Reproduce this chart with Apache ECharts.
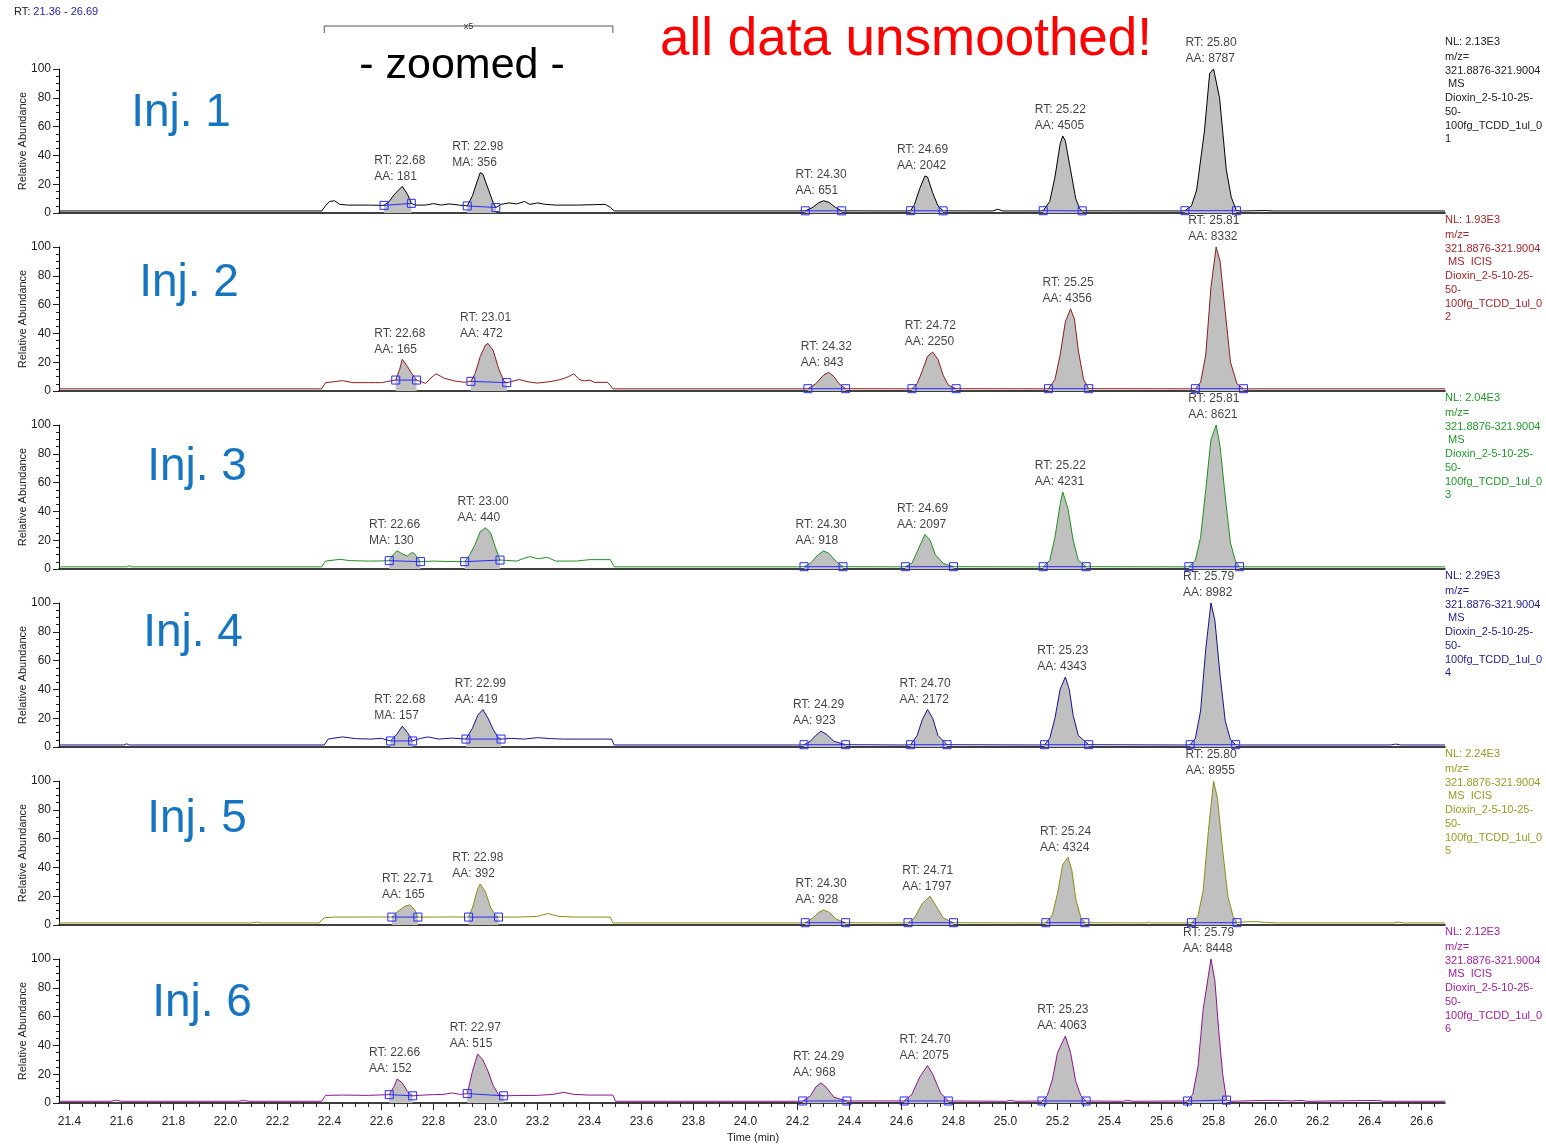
<!DOCTYPE html>
<html>
<head>
<meta charset="utf-8">
<script src="https://cdn.jsdelivr.net/npm/echarts@6/dist/echarts.min.js"></script>
<style>
html, body { margin: 0; padding: 0; background: #ffffff; }
#chart { width: 1546px; height: 1145px; }
</style>
</head>
<body>
<div id="chart"></div>
<script>
// Retention-time window shown on every trace (minutes)
const timeRange = [21.36, 26.69];
// Segment of the run displayed at x5 magnification
const zoomedRange = [22.38, 23.49];
// Labelled ticks on the shared time axis
const xTickLabels = [21.4, 21.6, 21.8, 22.0, 22.2, 22.4, 22.6, 22.8, 23.0, 23.2, 23.4, 23.6, 23.8,
  24.0, 24.2, 24.4, 24.6, 24.8, 25.0, 25.2, 25.4, 25.6, 25.8, 26.0, 26.2, 26.4, 26.6];

const injNames = ['Inj. 1', 'Inj. 2', 'Inj. 3', 'Inj. 4', 'Inj. 5', 'Inj. 6'];
const nlValues = ['2.13E3', '1.93E3', '2.04E3', '2.29E3', '2.24E3', '2.12E3'];
const scanModes = [' MS', ' MS  ICIS', ' MS', ' MS', ' MS  ICIS', ' MS  ICIS'];
const traceColors = ['#000000', '#8c1c1c', '#1f8f1f', '#14148c', '#8c8c14', '#8c148c'];
const infoColors = ['#222222', '#a3262a', '#22962b', '#1c1c8c', '#9a9a28', '#a021a0'];

// Chromatogram traces: [time (min), relative abundance (%)]
const inj1Trace = [[21.36,1.4],[22.37,1.4],[22.385,5],[22.40,8],[22.42,8.5],[22.44,6],[22.47,5.5],[22.55,5.5],
  [22.61,5.3],[22.63,8],[22.65,13],[22.68,18.5],[22.70,13],[22.715,6.7],[22.73,5.5],[22.77,5.5],[22.80,6.5],
  [22.83,5.5],[22.86,6.3],[22.90,5.5],[22.93,4.9],[22.95,12],[22.97,23],[22.98,28],[22.99,27],[23.01,17],
  [23.03,7],[23.04,3.8],[23.06,6],[23.09,7],[23.12,6.3],[23.15,8],[23.17,6],[23.20,7],[23.23,6],[23.27,5.5],
  [23.35,5.5],[23.42,5.8],[23.46,6],[23.48,4],[23.495,1.4],[24.20,1.4],[24.23,1.5],[24.26,4],[24.28,7],
  [24.30,8.5],[24.32,7.5],[24.345,4],[24.37,1.5],[24.62,1.4],[24.635,1.6],[24.65,6],[24.67,17],[24.69,25.7],
  [24.70,25],[24.72,14],[24.74,5],[24.76,1.5],[24.95,1.4],[24.97,2.6],[24.99,1.4],[25.13,1.4],[25.145,1.6],
  [25.17,8],[25.19,25],[25.21,48],[25.22,53.5],[25.23,50],[25.25,30],[25.27,10],[25.285,3],[25.295,1.5],
  [25.67,1.4],[25.69,1.6],[25.715,5],[25.735,16],[25.765,57],[25.785,97],[25.80,100],[25.823,80],[25.849,30],
  [25.868,11],[25.888,1.6],[25.91,1.4],[26.00,1.7],[26.03,1.4],[26.69,1.4]];
const inj2Trace = [[21.36,1.5],[22.37,1.5],[22.385,5.8],[22.42,6.5],[22.45,7.2],[22.49,5.8],[22.55,5.8],
  [22.60,5.8],[22.62,6.5],[22.655,7.6],[22.67,15],[22.68,22],[22.70,17],[22.715,12.5],[22.735,7.6],[22.77,5.3],
  [22.79,9],[22.81,12],[22.84,9],[22.88,7],[22.92,6],[22.944,6.7],[22.96,12],[22.98,24],[23.00,32],[23.01,33],
  [23.03,28],[23.05,16],[23.07,7],[23.082,5.8],[23.10,6.5],[23.13,8],[23.16,6.5],[23.20,5.5],[23.25,6.5],
  [23.29,8],[23.32,10],[23.34,12],[23.36,8],[23.38,7],[23.40,7.5],[23.42,6],[23.47,6],[23.48,4],[23.49,1.5],
  [24.22,1.5],[24.24,1.6],[24.27,5],[24.30,11],[24.32,13],[24.34,10],[24.36,5],[24.385,1.6],[24.62,1.5],
  [24.64,1.6],[24.66,5],[24.68,14],[24.70,24],[24.72,27],[24.74,22],[24.76,11],[24.78,4],[24.81,1.6],
  [25.15,1.5],[25.165,1.6],[25.19,8],[25.21,25],[25.23,48],[25.25,57],[25.265,50],[25.28,28],[25.30,8],
  [25.32,1.6],[25.71,1.5],[25.73,1.6],[25.75,6],[25.77,25],[25.79,72],[25.81,100],[25.825,90],[25.845,55],
  [25.865,20],[25.89,5],[25.915,1.6],[25.93,1.5],[26.69,1.5]];
const inj3Trace = [[21.36,1.5],[21.62,1.5],[21.63,2.2],[21.64,1.5],[22.37,1.5],[22.385,5.5],[22.44,6.7],
  [22.48,5.8],[22.55,5.5],[22.60,5.6],[22.63,5.8],[22.645,10],[22.66,12.7],[22.68,10.5],[22.70,9],[22.715,11.3],
  [22.725,11],[22.75,5.1],[22.80,5.5],[22.86,5.2],[22.92,5.1],[22.94,10],[22.96,17],[22.98,26],[23.00,28.7],
  [23.02,25],[23.04,14],[23.056,6.2],[23.08,6],[23.12,5.5],[23.15,7.5],[23.17,8.6],[23.20,7.2],[23.24,8],
  [23.27,5.5],[23.35,5.5],[23.40,6.5],[23.48,6.5],[23.495,1.5],[24.20,1.5],[24.225,1.6],[24.25,4],[24.28,10],
  [24.30,12.5],[24.32,11],[24.35,5],[24.375,1.6],[24.60,1.5],[24.615,1.6],[24.64,4],[24.66,12],[24.69,24],
  [24.71,20],[24.73,10],[24.76,4],[24.80,1.6],[25.13,1.5],[25.145,1.6],[25.17,6],[25.19,22],[25.21,45],
  [25.22,53.5],[25.24,42],[25.26,20],[25.28,6],[25.31,1.6],[25.69,1.5],[25.705,1.6],[25.73,6],[25.75,22],
  [25.77,55],[25.79,90],[25.81,100],[25.825,85],[25.845,50],[25.865,18],[25.885,5],[25.90,1.6],[25.92,1.5],
  [26.69,1.5]];
const inj4Trace = [[21.36,1.4],[21.61,1.4],[21.62,2.2],[21.63,1.4],[22.38,1.4],[22.395,5.5],[22.45,7],
  [22.50,5.8],[22.56,5.5],[22.60,6],[22.635,4.2],[22.66,9],[22.68,14.5],[22.70,10],[22.72,4.2],[22.75,6],
  [22.78,7],[22.82,5.5],[22.87,6.2],[22.925,5.5],[22.95,13],[22.97,22],[22.99,26],[23.01,20],[23.03,12],
  [23.05,6.5],[23.06,5.5],[23.10,6],[23.15,5.5],[23.20,6.5],[23.25,5.8],[23.30,5.5],[23.45,5.5],[23.485,5.5],
  [23.495,1.4],[24.21,1.4],[24.225,1.6],[24.25,4],[24.27,8],[24.29,11],[24.31,9],[24.34,4],[24.385,1.6],
  [24.62,1.4],[24.635,1.6],[24.66,8],[24.68,19],[24.70,26],[24.72,20],[24.74,8],[24.775,1.6],[25.135,1.4],
  [25.15,1.6],[25.17,6],[25.19,20],[25.21,40],[25.23,48.6],[25.245,40],[25.26,22],[25.28,8],[25.32,1.6],
  [25.69,1.4],[25.71,1.6],[25.73,6],[25.75,25],[25.77,68],[25.79,100],[25.805,88],[25.825,50],[25.845,18],
  [25.865,5],[25.885,1.6],[25.90,1.4],[26.48,1.4],[26.50,2],[26.52,1.4],[26.69,1.4]];
const inj5Trace = [[21.36,1.4],[22.10,1.4],[22.12,2],[22.14,1.4],[22.36,1.4],[22.38,5],[22.42,5.5],[22.50,5.5],
  [22.58,5.6],[22.64,5.5],[22.66,9],[22.69,13],[22.71,14],[22.73,10],[22.74,5.5],[22.80,5.5],[22.88,5.6],
  [22.935,5.5],[22.95,12],[22.97,25],[22.98,28.5],[23.00,23],[23.02,12],[23.04,6.5],[23.05,5.5],[23.12,5.5],
  [23.20,6],[23.24,8],[23.28,6],[23.35,5.5],[23.45,5.5],[23.48,5.5],[23.49,1.4],[24.21,1.4],[24.23,1.6],
  [24.26,5],[24.28,8.5],[24.30,10.4],[24.32,9],[24.35,4],[24.385,1.6],[24.61,1.4],[24.625,1.6],[24.65,5],
  [24.68,15],[24.71,20],[24.73,14],[24.76,5],[24.80,1.6],[25.14,1.4],[25.155,1.6],[25.18,7],[25.20,22],
  [25.22,42],[25.24,47],[25.255,38],[25.27,18],[25.29,5],[25.305,1.6],[25.54,1.4],[25.55,2],[25.56,1.4],
  [25.70,1.4],[25.715,1.6],[25.74,6],[25.76,24],[25.78,65],[25.80,100],[25.815,88],[25.835,52],[25.855,20],
  [25.875,6],[25.89,1.6],[25.92,2.2],[25.96,2.4],[26.00,1.8],[26.05,1.4],[26.49,1.4],[26.51,2],[26.53,1.4],
  [26.69,1.4]];
const inj6Trace = [[21.36,1.2],[21.56,1.2],[21.58,2],[21.60,1.2],[22.05,1.2],[22.07,1.8],[22.09,1.2],
  [22.37,1.2],[22.385,5.3],[22.45,5.5],[22.55,5.3],[22.63,5.8],[22.65,12],[22.66,16.7],[22.68,14],[22.70,8],
  [22.72,5],[22.76,5.5],[22.80,5.8],[22.84,6],[22.87,7],[22.90,6],[22.93,6.5],[22.95,22],[22.97,34],[22.99,30],
  [23.01,22],[23.03,12],[23.05,6],[23.07,5],[23.12,5.2],[23.20,5.3],[23.26,6],[23.30,7.4],[23.34,6],[23.40,5.5],
  [23.49,5.5],[23.50,1.2],[24.20,1.2],[24.22,1.4],[24.25,5],[24.27,11],[24.29,14],[24.31,11],[24.34,4],
  [24.39,1.4],[24.61,1.4],[24.64,6],[24.67,18],[24.70,26],[24.72,20],[24.75,7],[24.78,1.4],[25.00,1.2],
  [25.02,1.8],[25.04,1.2],[25.14,1.4],[25.16,5],[25.18,16],[25.20,35],[25.23,46.5],[25.25,35],[25.27,15],
  [25.29,5],[25.31,1.4],[25.45,1.2],[25.47,1.8],[25.49,1.2],[25.70,1.4],[25.72,6],[25.74,25],[25.76,65],
  [25.79,100],[25.805,85],[25.82,50],[25.835,20],[25.85,2],[25.87,1.2],[25.99,1.8],[26.05,1.8],[26.10,1.4],
  [26.14,1.8],[26.16,1.2],[26.43,1.8],[26.45,1.2],[26.69,1.2]];

// Integrated peaks: [RT, area type, area, start time, start level, end time, end level]
const inj1Peaks = [[22.68,'AA',181,22.61,5.3,22.715,6.7],[22.98,'MA',356,22.93,4.9,23.04,3.8],
  [24.30,'AA',651,24.23,1.5,24.37,1.5],[24.69,'AA',2042,24.635,1.6,24.76,1.5],
  [25.22,'AA',4505,25.145,1.6,25.295,1.5],[25.80,'AA',8787,25.69,1.6,25.888,1.6]];
const inj2Peaks = [[22.68,'AA',165,22.655,7.6,22.735,7.6],[23.01,'AA',472,22.944,6.7,23.082,5.8],
  [24.32,'AA',843,24.24,1.6,24.385,1.6],[24.72,'AA',2250,24.64,1.6,24.81,1.6],
  [25.25,'AA',4356,25.165,1.6,25.32,1.6],[25.81,'AA',8332,25.73,1.6,25.915,1.6]];
const inj3Peaks = [[22.66,'MA',130,22.63,5.8,22.75,5.1],[23.00,'AA',440,22.92,5.1,23.056,6.2],
  [24.30,'AA',918,24.225,1.6,24.375,1.6],[24.69,'AA',2097,24.615,1.6,24.80,1.6],
  [25.22,'AA',4231,25.145,1.6,25.31,1.6],[25.81,'AA',8621,25.705,1.6,25.90,1.6]];
const inj4Peaks = [[22.68,'MA',157,22.635,4.2,22.72,4.2],[22.99,'AA',419,22.925,5.5,23.06,5.5],
  [24.29,'AA',923,24.225,1.6,24.385,1.6],[24.70,'AA',2172,24.635,1.6,24.775,1.6],
  [25.23,'AA',4343,25.15,1.6,25.32,1.6],[25.79,'AA',8982,25.71,1.6,25.885,1.6]];
const inj5Peaks = [[22.71,'AA',165,22.64,5.5,22.74,5.5],[22.98,'AA',392,22.935,5.5,23.05,5.5],
  [24.30,'AA',928,24.23,1.6,24.385,1.6],[24.71,'AA',1797,24.625,1.6,24.80,1.6],
  [25.24,'AA',4324,25.155,1.6,25.305,1.6],[25.80,'AA',8955,25.715,1.6,25.89,1.6]];
const inj6Peaks = [[22.66,'AA',152,22.63,5.8,22.72,5],[22.97,'AA',515,22.93,6.5,23.07,5],
  [24.29,'AA',968,24.22,1.4,24.39,1.4],[24.70,'AA',2075,24.61,1.4,24.78,1.4],
  [25.23,'AA',4063,25.14,1.4,25.31,1.4],[25.79,'AA',8448,25.70,1.4,25.85,2]];

const traces = [inj1Trace, inj2Trace, inj3Trace, inj4Trace, inj5Trace, inj6Trace];
const peakTables = [inj1Peaks, inj2Peaks, inj3Peaks, inj4Peaks, inj5Peaks, inj6Peaks];

const FONT = '"Liberation Sans", Arial, Helvetica, sans-serif';
const PANEL_TOP = 69, PANEL_STEP = 178, PANEL_H = 144, LEFT = 59, RIGHT = 101;
const n = traces.length;

const grid = [], xAxis = [], yAxis = [], series = [];

for (let i = 0; i < n; i++) {
  const isLast = i === n - 1;
  grid.push({ left: LEFT, right: RIGHT, top: PANEL_TOP + PANEL_STEP * i, height: PANEL_H });

  xAxis.push({
    type: 'value', gridIndex: i, min: timeRange[0], max: timeRange[1], position: 'bottom',
    splitLine: { show: false },
    axisLine: { show: true, onZero: false, lineStyle: { color: '#000', width: 1.5 } },
    axisTick: isLast
      ? { show: true, customValues: xTickLabels, length: 7, lineStyle: { color: '#222' } }
      : { show: false },
    axisLabel: isLast
      ? { show: true, customValues: xTickLabels, formatter: v => v.toFixed(1), fontFamily: FONT,
          fontSize: 12, color: '#222', margin: 13 }
      : { show: false }
  });

  yAxis.push({
    type: 'value', gridIndex: i, min: 0, max: 100, interval: 20,
    name: 'Relative Abundance', nameLocation: 'middle', nameGap: 31, nameMoveOverlap: false,
    nameTextStyle: { fontFamily: FONT, fontSize: 11, color: '#222' },
    splitLine: { show: false },
    axisLine: { show: true, lineStyle: { color: '#000', width: 1 } },
    axisTick: { show: true, length: 6, lineStyle: { color: '#222' } },
    minorTick: { show: true, splitNumber: 4, length: 3, lineStyle: { color: '#222' } },
    axisLabel: { fontFamily: FONT, fontSize: 12, color: '#222', margin: 8 }
  });

  const trace = traces[i];
  const peaks = peakTables[i];

  // grey integrated area under each peak
  peaks.forEach(p => {
    const [, , , ts, , te] = p;
    series.push({
      type: 'line', xAxisIndex: i, yAxisIndex: i, z: 1, silent: true,
      symbol: 'none', lineStyle: { width: 0 },
      areaStyle: { color: '#c0c0c0', opacity: 1 },
      data: trace.filter(d => d[0] >= ts - 1e-9 && d[0] <= te + 1e-9)
    });
  });

  // the chromatogram itself
  series.push({
    type: 'line', xAxisIndex: i, yAxisIndex: i, z: 3, silent: true,
    symbol: 'none', lineStyle: { color: traceColors[i], width: 1 },
    data: trace
  });

  // integration baselines with their start / end markers
  peaks.forEach(p => {
    const [, , , ts, ys, te, ye] = p;
    series.push({
      type: 'line', xAxisIndex: i, yAxisIndex: i, z: 4, silent: true,
      symbol: 'rect', symbolSize: 8, showSymbol: true,
      itemStyle: { color: 'rgba(0,0,0,0)', borderColor: '#2a2aff', borderWidth: 1 },
      lineStyle: { color: '#2a2aff', width: 1 },
      data: [[ts, ys], [te, ye]]
    });
  });

  // RT / area annotations placed on each apex
  series.push({
    type: 'scatter', xAxisIndex: i, yAxisIndex: i, z: 6, silent: true, symbolSize: 0,
    data: peaks.map(p => {
      const [rt, kind, area, ts, , te] = p;
      const inWin = trace.filter(d => d[0] >= ts && d[0] <= te);
      const atRt = trace.find(d => Math.abs(d[0] - rt) < 1e-6);
      const apex = atRt ? atRt[1] : Math.max(...inWin.map(d => d[1]));
      return {
        value: [rt, apex],
        label: {
          show: true, position: 'top', distance: 2,
          formatter: `{a|RT: ${rt.toFixed(2)}}\n{a|${kind}: ${area}}`
        }
      };
    }),
    label: {
      rich: { a: { fontFamily: FONT, fontSize: 12, lineHeight: 16, color: '#111', width: 56, align: 'left' } }
    }
  });
}

// fine time ticks every 0.05 min on the bottom panel
const minorTimeTicks = [];
for (let k = 0; k < 106; k++) minorTimeTicks.push(+(21.40 + k * 0.05).toFixed(2));
xAxis.push({
  type: 'value', gridIndex: n - 1, min: timeRange[0], max: timeRange[1], position: 'bottom',
  splitLine: { show: false }, axisLine: { show: false },
  axisTick: { show: true, customValues: minorTimeTicks, length: 4, lineStyle: { color: '#222' } },
  axisLabel: { show: false }
});

// panel captions and per-trace acquisition info
const graphic = [
  { type: 'text', left: 14, top: 6, style: { text: '{k|RT: }{v|21.36 - 26.69}',
      rich: { k: { fontFamily: FONT, fontSize: 11, fill: '#222' }, v: { fontFamily: FONT, fontSize: 11, fill: '#2424a8' } } } },
  { type: 'text', x: 462, y: 66, style: { text: '- zoomed -', fontFamily: FONT, fontSize: 43, fill: '#000',
      textAlign: 'center', textVerticalAlign: 'middle' } },
  { type: 'text', x: 906, y: 40, style: { text: 'all data unsmoothed!', fontFamily: FONT, fontSize: 53, fill: '#ff0000',
      textAlign: 'center', textVerticalAlign: 'middle' } },
  { type: 'text', x: 753, y: 1138, style: { text: 'Time (min)', fontFamily: FONT, fontSize: 11, fill: '#222',
      textAlign: 'center', textVerticalAlign: 'middle' } }
];
const injCenters = [[181, 113], [189, 283], [197, 467], [193, 633], [197, 819], [202, 1003]];
for (let i = 0; i < n; i++) {
  graphic.push({ type: 'text', x: injCenters[i][0], y: injCenters[i][1], style: {
    text: injNames[i], fontFamily: FONT, fontSize: 46, fill: '#1674c0', textAlign: 'center', textVerticalAlign: 'middle' } });
  const top = PANEL_TOP + PANEL_STEP * i;
  graphic.push({ type: 'text', x: 1445, y: top - 27.5, style: {
    text: 'NL: ' + nlValues[i], fontFamily: FONT, fontSize: 11, fill: infoColors[i], textVerticalAlign: 'middle' } });
  graphic.push({ type: 'text', x: 1445, y: top - 12 - 6.85, style: {
    text: ['m/z=', '321.8876-321.9004', scanModes[i], 'Dioxin_2-5-10-25-', '50-', '100fg_TCDD_1ul_0', String(i + 1)].join('\n'),
    fontFamily: FONT, fontSize: 11, lineHeight: 13.7, fill: infoColors[i], textVerticalAlign: 'top' } });
}

const chart = echarts.init(document.getElementById('chart'), null, { renderer: 'canvas' });
chart.setOption({ animation: false, backgroundColor: '#ffffff', grid, xAxis, yAxis, series, graphic });

// bracket marking the magnified segment, positioned through the time axis
const zx0 = chart.convertToPixel({ xAxisIndex: 0 }, zoomedRange[0]);
const zx1 = chart.convertToPixel({ xAxisIndex: 0 }, zoomedRange[1]);
graphic.push(
  { type: 'polyline', shape: { points: [[zx0, 33], [zx0, 26], [zx1, 26], [zx1, 33]] },
    style: { stroke: '#555', lineWidth: 1, fill: null } },
  { type: 'text', x: (zx0 + zx1) / 2, y: 27, style: { text: 'x5', fontFamily: FONT, fontSize: 9, fill: '#333',
      textAlign: 'center', textVerticalAlign: 'middle' } }
);
chart.setOption({ graphic }, { replaceMerge: ['graphic'] });
</script>
</body>
</html>
